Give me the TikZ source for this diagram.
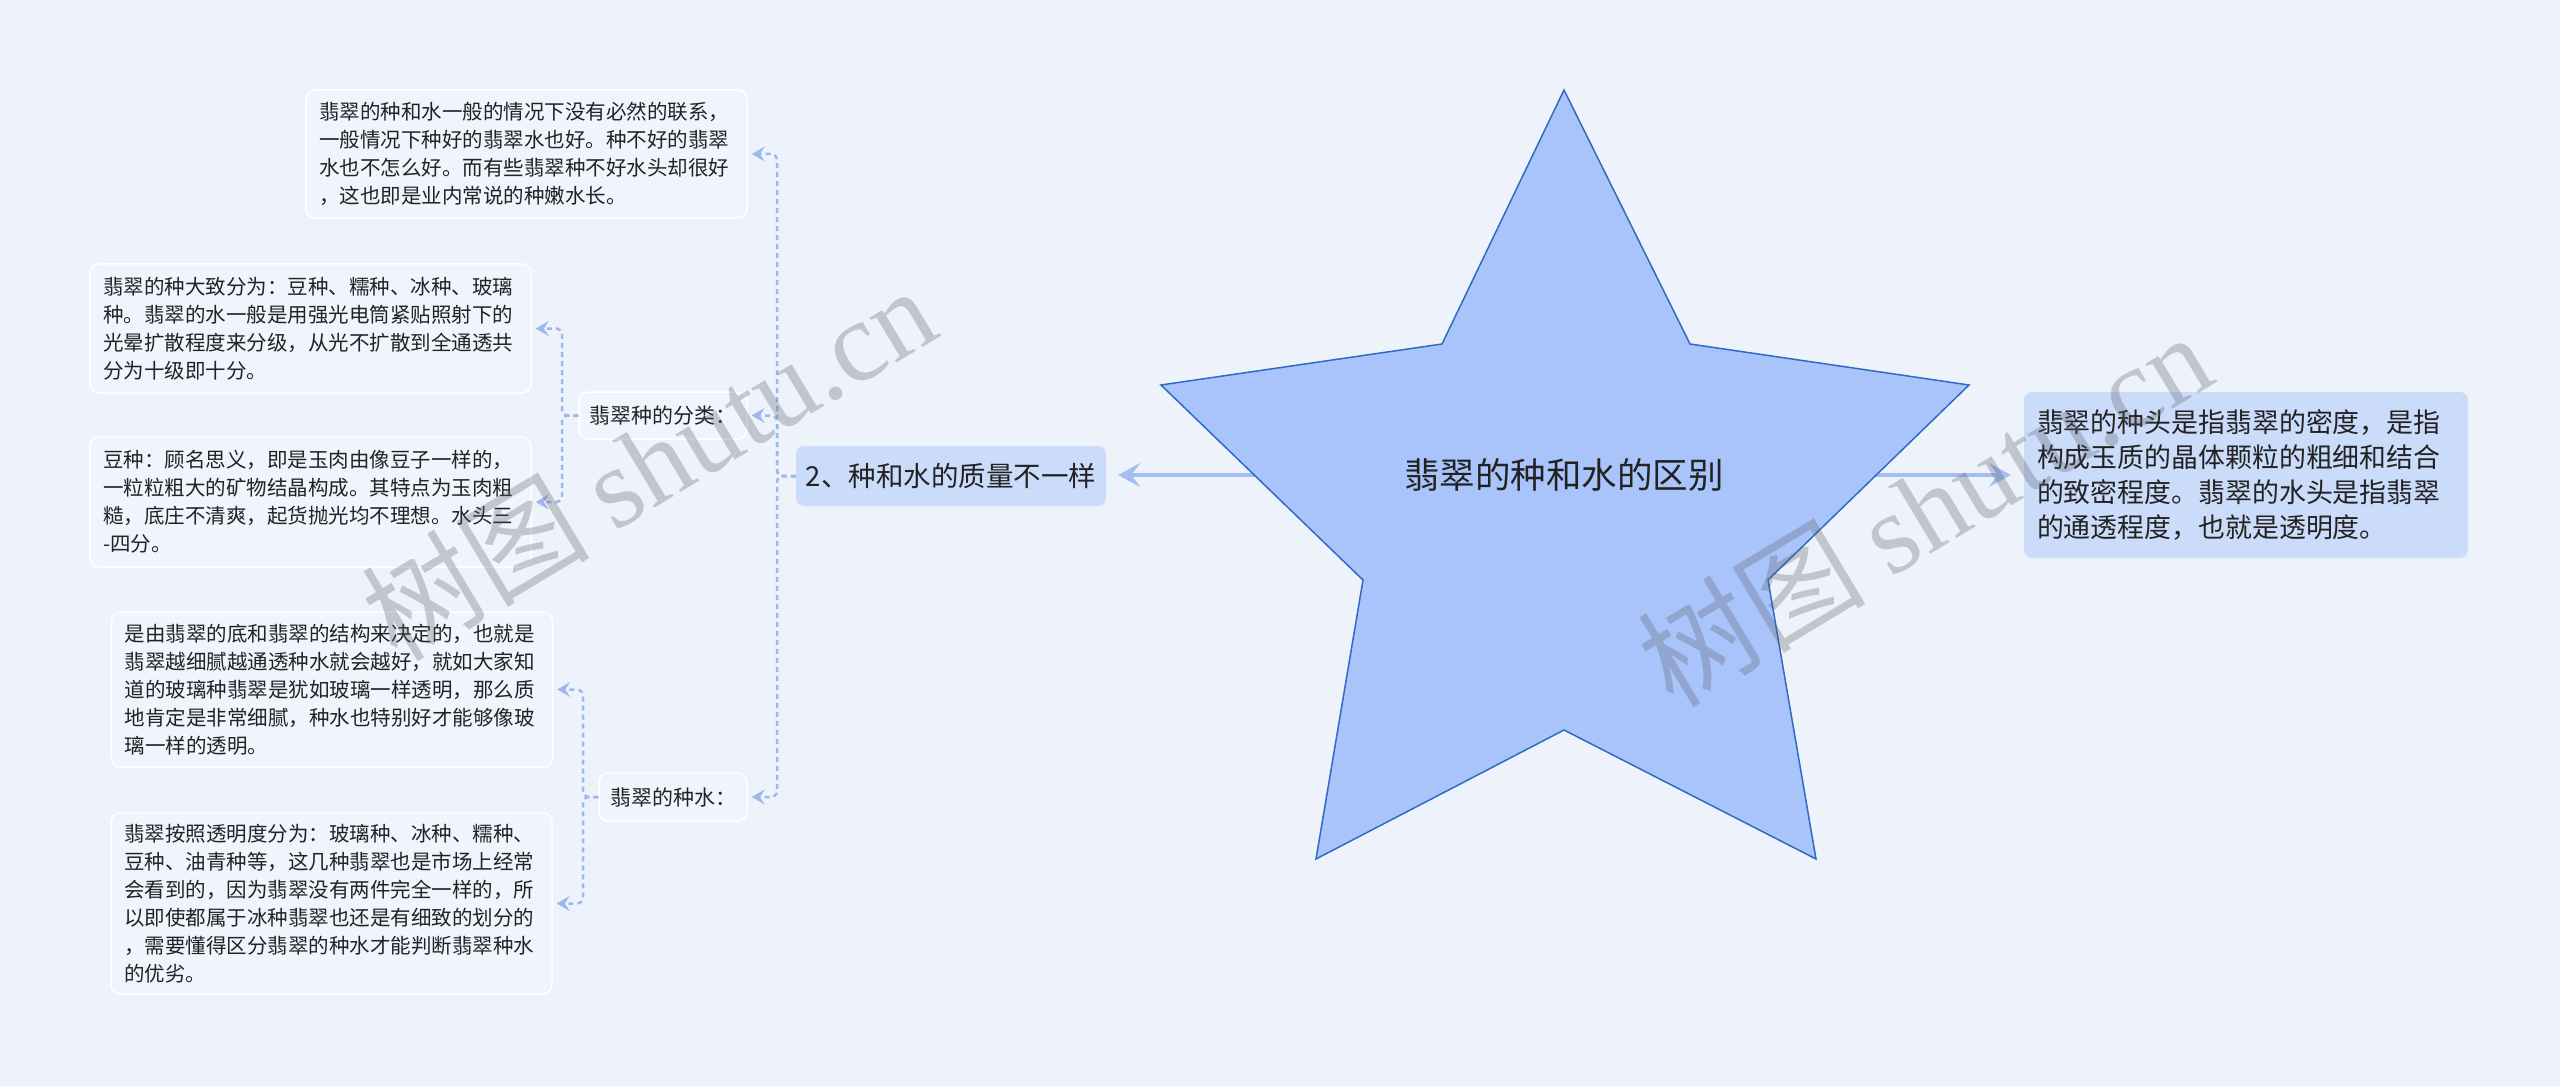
\documentclass[tikz,border=0pt]{standalone}
\usepackage{fontspec}
\setmainfont{Noto Sans CJK SC}
\newfontfamily\wmlatin{Liberation Serif}
\usetikzlibrary{arrows.meta}
\definecolor{bg}{HTML}{EEF3FB}
\definecolor{boxfill}{HTML}{F0F5FD}
\definecolor{mainfill}{HTML}{CBDBFA}
\definecolor{starfill}{HTML}{A9C4FB}
\definecolor{starline}{HTML}{2F6BC2}
\definecolor{link}{HTML}{A3BEF2}
\definecolor{dlink}{HTML}{9DB8EC}
\definecolor{txt}{HTML}{222222}
\definecolor{wm}{HTML}{5A5F66}
\begin{document}
\begin{tikzpicture}[x=1pt,y=-1pt,
  leaf/.style={draw=white, line width=1.5pt, fill=boxfill, rounded corners=9pt,
    align=left, text width=415pt, inner xsep=13pt, inner ysep=3pt,
    font=\fontsize{20.5}{28}\selectfont, text=txt, anchor=center},
  sub/.style={draw=white, line width=1.5pt, fill=boxfill, rounded corners=9pt,
    inner xsep=9pt, inner ysep=3pt, font=\fontsize{21}{26}\selectfont, text=txt, anchor=center},
  mainbox/.style={fill=mainfill, rounded corners=8pt, inner ysep=3pt, text=txt, anchor=center},
  solidlink/.style={draw=link, line width=3.5pt, -{Stealth[length=22pt,width=24pt,inset=9pt]}},
  dashlink/.style={draw=dlink, line width=2.5pt, dash pattern=on 5pt off 4pt, rounded corners=6pt,
    -{Stealth[length=13pt,width=15pt,inset=5pt]}, shorten >=4pt},
  wmark/.style={rotate=31, text=wm, opacity=0.3, font=\fontsize{114}{114}\selectfont, inner sep=0pt}
]
\useasboundingbox (0,0) rectangle (2560,1086);
\fill[bg] (0,0) rectangle (2560,1086);

% nodes
\node[mainbox, minimum width=444pt, minimum height=166pt, align=left, text width=418pt, inner xsep=13pt,
  font=\fontsize{26.9}{35}\selectfont] (r1) at (2246,475)
  {翡翠的种头是指翡翠的密度，是指\\构成玉质的晶体颗粒的粗细和结合\\的致密程度。翡翠的水头是指翡翠\\的通透程度，也就是透明度。};
\node[mainbox, minimum width=310pt, minimum height=60pt, inner xsep=8pt,
  font=\fontsize{27.5}{32}\selectfont] (m2) at (951,476) {2、种和水的质量不一样};

\node[sub, minimum width=168pt, minimum height=47pt] (c2) at (663,415.5) {翡翠种的分类：};
\node[sub, minimum width=148pt, minimum height=48pt] (c3) at (673,797) {翡翠的种水：};

\node[leaf, minimum height=128pt] (b1) at (526.5,154)
  {翡翠的种和水一般的情况下没有必然的联系，\\一般情况下种好的翡翠水也好。种不好的翡翠\\水也不怎么好。而有些翡翠种不好水头却很好\\，这也即是业内常说的种嫩水长。};
\node[leaf, minimum height=129pt] (b2) at (310.5,328.5)
  {翡翠的种大致分为：豆种、糯种、冰种、玻璃\\种。翡翠的水一般是用强光电筒紧贴照射下的\\光晕扩散程度来分级，从光不扩散到全通透共\\分为十级即十分。};
\node[leaf, minimum height=130pt] (b3) at (310.5,502)
  {豆种：顾名思义，即是玉肉由像豆子一样的，\\一粒粒粗大的矿物结晶构成。其特点为玉肉粗\\糙，底庄不清爽，起货抛光均不理想。水头三\\-四分。};
\node[leaf, minimum height=155pt] (b4) at (332,689.5)
  {是由翡翠的底和翡翠的结构来决定的，也就是\\翡翠越细腻越通透种水就会越好，就如大家知\\道的玻璃种翡翠是犹如玻璃一样透明，那么质\\地肯定是非常细腻，种水也特别好才能够像玻\\璃一样的透明。};
\node[leaf, minimum height=181pt] (b5) at (331.5,903.5)
  {翡翠按照透明度分为：玻璃种、冰种、糯种、\\豆种、油青种等，这几种翡翠也是市场上经常\\会看到的，因为翡翠没有两件完全一样的，所\\以即使都属于冰种翡翠也还是有细致的划分的\\，需要懂得区分翡翠的种水才能判断翡翠种水\\的优劣。};

% bus coordinates
\coordinate (busA) at (777,0);
\coordinate (busB) at (562,0);
\coordinate (busC) at (583,0);

% dashed connectors
\draw[dashlink] (m2.west) -- (m2.west -| busA) -- (busA |- b1.east) -- (b1.east);
\draw[dashlink] (m2.west) -- (m2.west -| busA) -- (busA |- c2.east) -- (c2.east);
\draw[dashlink] (m2.west) -- (m2.west -| busA) -- (busA |- c3.east) -- (c3.east);
\draw[dashlink] (c2.west) -- (c2.west -| busB) -- (busB |- b2.east) -- (b2.east);
\draw[dashlink] (c2.west) -- (c2.west -| busB) -- (busB |- b3.east) -- (b3.east);
\draw[dashlink] (c3.west) -- (c3.west -| busC) -- (busC |- b4.east) -- (b4.east);
\draw[dashlink] (c3.west) -- (c3.west -| busC) -- (busC |- b5.east) -- (b5.east);

% star connectors (behind star)
\coordinate (starc) at (1564,475);
\draw[solidlink, shorten >=13pt] (starc) -- (starc -| r1.west);
\draw[solidlink, shorten >=12pt] (starc) -- (starc -| m2.east);

% star
\draw[fill=starfill, draw=starline, line width=1.5pt, line join=miter]
  (1564,90) -- (1690,344) -- (1969,385) -- (1768,580) -- (1816,859) --
  (1564,730) -- (1316,859) -- (1363,580) -- (1161,385) -- (1442,344) -- cycle;
\node[text=txt, font=\fontsize{35.5}{42}\selectfont] (star) at (starc) {翡翠的种和水的区别};

% watermarks
\node[wmark] (wm1) at (648,462) {树图 {\wmlatin shutu.cn}};
\node[wmark] (wm2) at (1924,508) {树图 {\wmlatin shutu.cn}};
\end{tikzpicture}
\end{document}
